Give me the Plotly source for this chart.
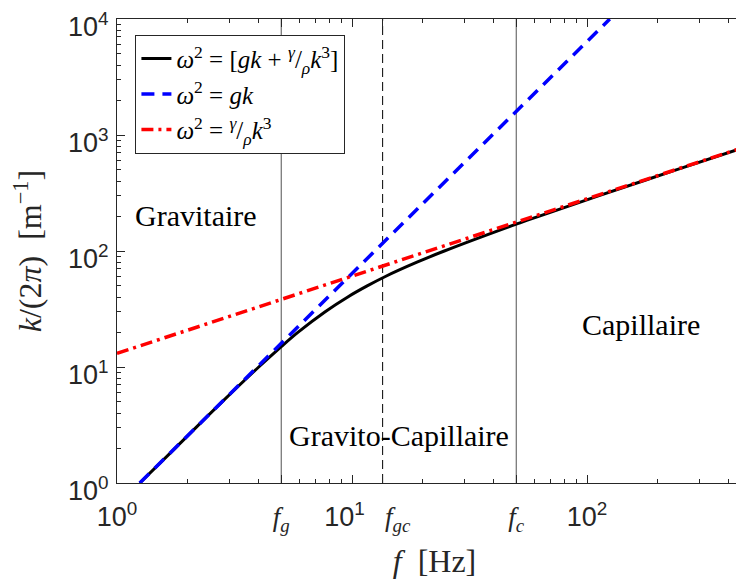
import numpy as np
import plotly.graph_objects as go

# Characteristic frequencies (Hz)
f_g = 5.0
f_gc = 13.5
f_c = 50.0

# Full dispersion relation w^2 = gk + (gamma/rho) k^3 : f [Hz] vs k/(2pi) [1/m]
f_full = [1.25, 1.77, 2.80, 4.01, 5.00, 5.90, 7.69, 9.56, 11.6, 13.8, 18.9, 24.7, 42.0, 51.9, 62.7, 112.6, 239.4, 482.6]
k_full = [1, 2, 5, 10, 15, 20, 30, 40, 50, 60, 80, 100, 150, 175, 200, 300, 500, 800]

# Gravity branch w^2 = gk
f_grav = [1.25, 125]
k_grav = [1, 10000]

# Capillary branch w^2 = (gamma/rho) k^3
f_cap = [1, 500]
k_cap = [13.1, 823]

x_tickvals = [1, f_g, 10, f_gc, f_c, 100]
serif = "Liberation Serif"
sans = "Liberation Sans"
ink = "#262626"


def s(txt):
    return '<span style="font-family:%s">%s</span>' % (serif, txt)


x_ticktext = [
    "10<sup>0</sup>",
    s("<i>f</i><sub><i>g</i></sub>"),
    "10<sup>1</sup>&nbsp;&nbsp;",
    "&nbsp;&nbsp;&nbsp;&nbsp;" + s("<i>f</i><sub><i>gc</i></sub>"),
    s("<i>f</i><sub><i>c</i></sub>"),
    "10<sup>2</sup>",
]
y_tickvals = [1, 10, 100, 1000, 10000]
y_ticktext = ["10<sup>0</sup>", "10<sup>1</sup>", "10<sup>2</sup>", "10<sup>3</sup>", "10<sup>4</sup>"]

minor_x = [m * d for d in (1, 10, 100) for m in range(2, 10)]
minor_y = [m * d for d in (1, 10, 100, 1000) for m in range(2, 10)]

fig = go.Figure()

# Vertical markers for the regimes
for fv, col, dash, w in [(f_g, "#6e6e6e", "solid", 1.2), (f_c, "#6e6e6e", "solid", 1.2), (f_gc, "black", "9px,5px", 1.0)]:
    fig.add_trace(go.Scatter(
        x=[fv, fv], y=[1, 10000], mode="lines",
        line=dict(color=col, width=w, dash=dash),
        showlegend=False, hoverinfo="skip"
    ))

fig.add_trace(go.Scatter(
    x=f_full, y=k_full, mode="lines",
    name="<i>ω</i><sup>2</sup> = [<i>gk</i> + <sup><i>γ</i></sup>/<sub><i>ρ</i></sub><i>k</i><sup>3</sup>]",
    line=dict(color="black", width=3, shape="spline")
))
fig.add_trace(go.Scatter(
    x=f_grav, y=k_grav, mode="lines",
    name="<i>ω</i><sup>2</sup> = <i>gk</i>",
    line=dict(color="#0000ff", width=3.5, dash="13px,8px")
))
fig.add_trace(go.Scatter(
    x=f_cap, y=k_cap, mode="lines",
    name="<i>ω</i><sup>2</sup> = <sup><i>γ</i></sup>/<sub><i>ρ</i></sub><i>k</i><sup>3</sup>",
    line=dict(color="#ff0000", width=3.5, dash="12px,5px,3px,5px")
))

# Regime labels
for txt, xl, yl in [("Gravitaire", 0.335, 2.31), ("Capillaire", 2.23, 1.37), ("Gravito-Capillaire", 1.199, 0.41)]:
    fig.add_annotation(x=xl, y=yl, xref="x", yref="y", text=txt, showarrow=False,
                       font=dict(family=serif, size=30, color="black"))

# y tick labels drawn as annotations so they sit a little below their ticks, like the original
for v, t in zip(y_tickvals, y_ticktext):
    fig.add_annotation(x=0, y=np.log10(v), xref="paper", yref="y", text=t, showarrow=False,
                       xanchor="right", yanchor="middle", xshift=-6, yshift=-6,
                       font=dict(family=sans, size=27, color=ink))

fig.update_xaxes(
    type="log", range=[0, 2.702], automargin=False, ticklabeloverflow="allow",
    tickmode="array", tickvals=x_tickvals, ticktext=x_ticktext, tickangle=0,
    ticks="inside", ticklen=8, tickcolor=ink, tickwidth=1,
    minor=dict(tickmode="array", tickvals=minor_x, ticks="inside", ticklen=4, tickcolor=ink, showgrid=False),
    showline=True, linecolor=ink, linewidth=1, mirror="ticks",
    showgrid=False, zeroline=False,
    tickfont=dict(family=sans, size=27, color=ink),
    ticklabelstandoff=10,
    title=dict(text="<i>f</i>  [Hz]", font=dict(family=serif, size=32, color=ink), standoff=14),
)
fig.update_yaxes(
    type="log", range=[0, 4], automargin=False, showticklabels=False,
    tickmode="array", tickvals=y_tickvals,
    ticks="inside", ticklen=8, tickcolor=ink, tickwidth=1,
    minor=dict(tickmode="array", tickvals=minor_y, ticks="inside", ticklen=4, tickcolor=ink, showgrid=False),
    showline=True, linecolor=ink, linewidth=1, mirror="ticks",
    showgrid=False, zeroline=False,
    title=dict(text="<i>k</i>/(2<i>π</i>)  [m<sup>−1</sup>]", font=dict(family=serif, size=32, color=ink), standoff=68),
)

# the page body adds an 8px offset, so margins are trimmed by 8px on left/top
fig.update_layout(
    width=744, height=588,
    margin=dict(l=109, r=0, t=11, b=113),
    paper_bgcolor="white", plot_bgcolor="white",
    legend=dict(
        x=0.029, y=0.966, xanchor="left", yanchor="top",
        bgcolor="white", bordercolor=ink, borderwidth=1,
        font=dict(family=serif, size=25, color="black"),
        itemwidth=30, tracegroupgap=0,
    ),
    showlegend=True,
)

fig.write_html("out.html")
